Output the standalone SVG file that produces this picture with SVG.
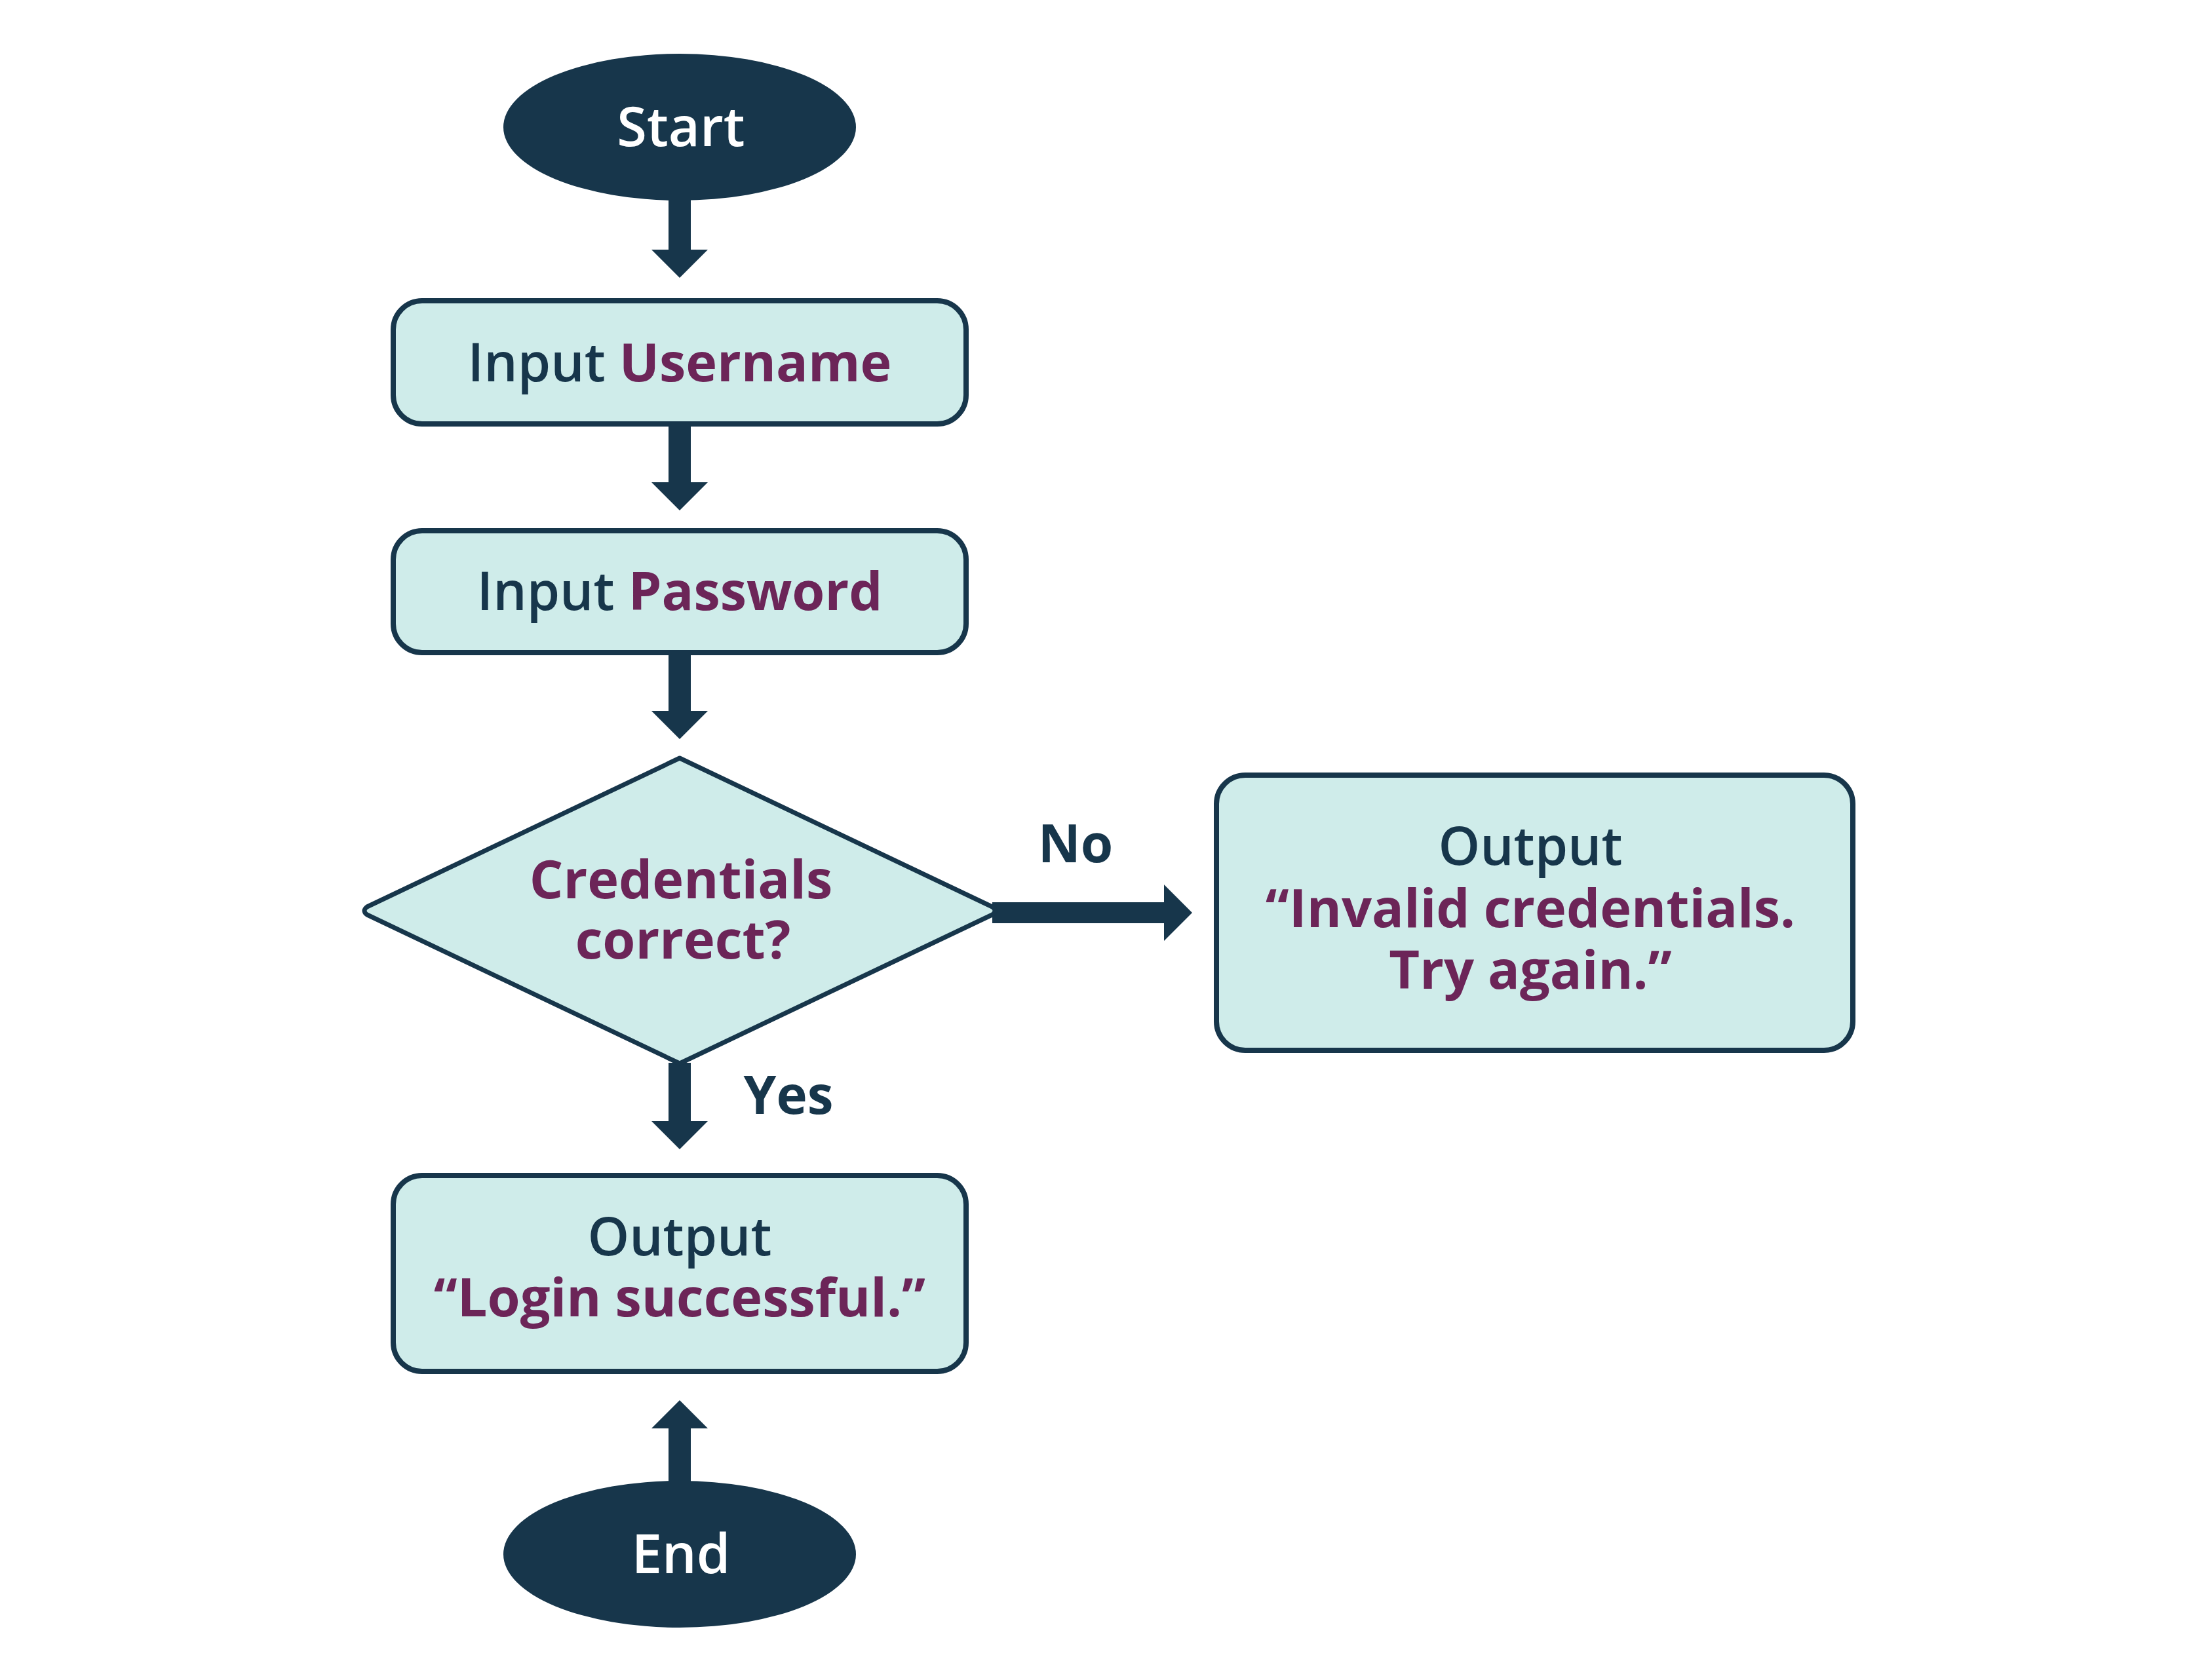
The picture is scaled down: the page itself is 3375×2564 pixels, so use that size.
<svg xmlns="http://www.w3.org/2000/svg" width="3375" height="2564" viewBox="0 0 3375 2564">
<style>
.term{fill:#17364b}
.box{fill:#cfecea;stroke:#17364b;stroke-width:8}
.dia{fill:#cfecea;stroke:#17364b;stroke-width:7;stroke-linejoin:round}
.arr{fill:#17364b}
text{font-family:"Open Sans","Liberation Sans",sans-serif;text-anchor:middle}
.tw{fill:#ffffff;font-weight:600;font-size:83px}
.tn{fill:#17364b;font-weight:600;font-size:81px}
.tp{fill:#6c2558;font-weight:700}
.lbl{fill:#17364b;font-weight:700;font-size:80px}
</style>
<rect width="3375" height="2564" fill="#ffffff"/>
<g id="connectors">
<path class="arr" d="M1020,300 L1054,300 L1054,381 L1080,381 L1037,424 L994,381 L1020,381 Z"/>
<path class="arr" d="M1020,646 L1054,646 L1054,736 L1080,736 L1037,779 L994,736 L1020,736 Z"/>
<path class="arr" d="M1020,995 L1054,995 L1054,1085 L1080,1085 L1037,1128 L994,1085 L1020,1085 Z"/>
<path class="arr" d="M1020,1622 L1054,1622 L1054,1711 L1080,1711 L1037,1754 L994,1711 L1020,1711 Z"/>
<path class="arr" d="M1020,2262 L1054,2262 L1054,2180 L1080,2180 L1037,2137 L994,2180 L1020,2180 Z"/>
<path class="arr" d="M1514,1377 L1776,1377 L1776,1350 L1819,1393 L1776,1436 L1776,1409 L1514,1409 Z"/>
<text class="lbl" x="1641" y="1316">No</text>
<text class="lbl" x="1203" y="1700">Yes</text>
</g>
<g id="start">
<ellipse class="term" cx="1037" cy="194" rx="269" ry="112"/>
<text class="tw" x="1039" y="223">Start</text>
</g>
<g id="input-username">
<rect class="box" x="600" y="459" width="874" height="188" rx="44"/>
<text class="tn" x="1037" y="582">Input <tspan class="tp">Username</tspan></text>
</g>
<g id="input-password">
<rect class="box" x="600" y="810" width="874" height="186" rx="44"/>
<text class="tn" x="1037" y="931">Input <tspan class="tp">Password</tspan></text>
</g>
<g id="decision">
<path class="dia" d="M1037,1157 L1514,1384 Q1522,1390 1514,1396 L1037,1623 L560,1396 Q552,1390 560,1384 Z"/>
<text class="tn tp" x="1039" y="1371">Credentials</text>
<text class="tn tp" x="1042" y="1463">correct?</text>
</g>
<g id="output-invalid">
<rect class="box" x="1856" y="1183" width="971" height="420" rx="44"/>
<text class="tn" x="2335" y="1320">Output</text>
<text class="tn tp" x="2335" y="1415">“Invalid credentials.</text>
<text class="tn tp" x="2335" y="1509">Try again.”</text>
</g>
<g id="output-success">
<rect class="box" x="600" y="1794" width="874" height="299" rx="44"/>
<text class="tn" x="1037" y="1916">Output</text>
<text class="tn tp" x="1037" y="2009">“Login successful.”</text>
</g>
<g id="end">
<ellipse class="term" cx="1037" cy="2372" rx="269" ry="112"/>
<text class="tw" x="1039" y="2401">End</text>
</g>
</svg>
